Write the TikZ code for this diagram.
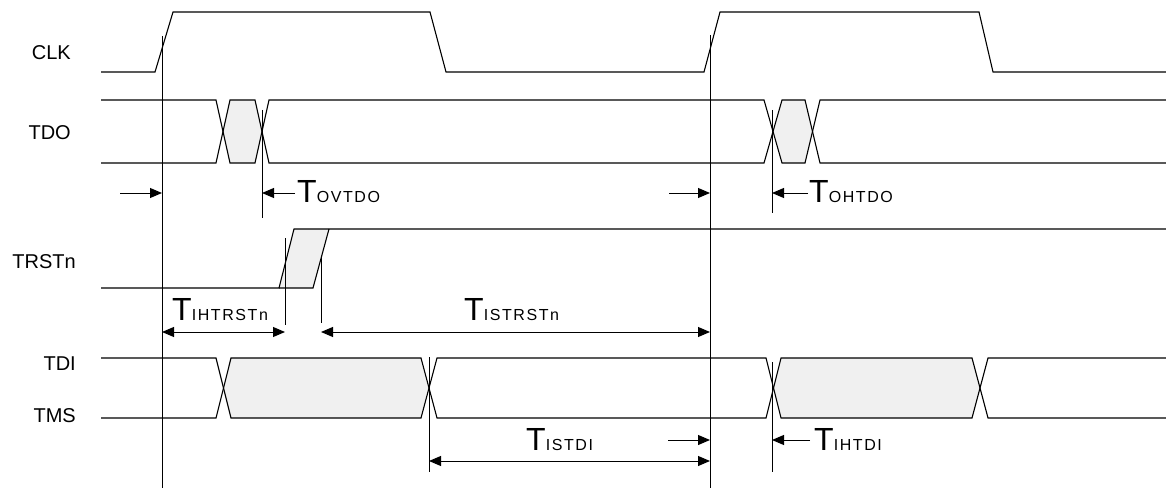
\documentclass[tikz,border=0pt]{standalone}
\usepackage{fontspec}
\setmainfont{Liberation Sans}
\usetikzlibrary{arrows.meta}
\newcommand\Tsub[1]{{\fontsize{32}{32}\selectfont T}{\fontsize{16}{16}\selectfont\addfontfeature{LetterSpace=10}#1}}
\begin{document}
\begin{tikzpicture}[x=1pt,y=-1pt,
  sig/.style={line width=1.1pt, line join=miter},
  marker/.style={line width=1pt},
  cell/.style={fill=gray!12},
  dim/.style={line width=1pt, -{Triangle[length=12pt,width=10pt]}},
  ddim/.style={line width=1pt, {Triangle[length=12pt,width=10pt]}-{Triangle[length=12pt,width=10pt]}},
  sname/.style={font=\fontsize{20}{20}\selectfont, anchor=base east, inner sep=0pt},
  tlab/.style={anchor=base west, inner sep=0pt}
]
\useasboundingbox (0,0) rectangle (1166,489);

% signal names
\node[sname] (nclk)  at (71,60)  {CLK};
\node[sname] (ntdo)  at (71,140) {TDO};
\node[sname] (ntrst) at (76,268) {TRSTn};
\node[sname] (ntdi)  at (76,370) {TDI};
\node[sname] (ntms)  at (76,422) {TMS};

% gray undefined-data cells
\fill[cell] (223,131.5) -- (230,100) -- (255,100) -- (262,131.5) -- (255,163) -- (230,163) -- cycle;
\fill[cell] (773,131.5) -- (782,100) -- (805,100) -- (812.5,131.5) -- (805,163) -- (782,163) -- cycle;
\fill[cell] (279,288) -- (294,229) -- (329,229) -- (313,288) -- cycle;
\fill[cell] (223.5,388) -- (231,358) -- (421,358) -- (429,388) -- (421,418) -- (231,418) -- cycle;
\fill[cell] (773.5,388) -- (781,358) -- (972,358) -- (980,388) -- (972,418) -- (781,418) -- cycle;

% CLK
\draw[sig] (101,72) -- (155,72) -- (173,12) -- (430,12) -- (446,72) -- (704,72) -- (720,12) -- (979,12) -- (993,72) -- (1166,72);
% TDO
\draw[sig] (101,100) -- (216,100) -- (230,163) -- (255,163) -- (269,100) -- (764,100) -- (782,163) -- (805,163) -- (820,100) -- (1166,100);
\draw[sig] (101,163) -- (216,163) -- (230,100) -- (255,100) -- (269,163) -- (764,163) -- (782,100) -- (805,100) -- (820,163) -- (1166,163);
% TRSTn
\draw[sig] (101,288) -- (279,288) -- (294,229) -- (1166,229);
\draw[sig] (279,288) -- (313,288) -- (329,229);
% TDI / TMS
\draw[sig] (101,358) -- (216,358) -- (231,418) -- (421,418) -- (437,358) -- (766,358) -- (781,418) -- (972,418) -- (988,358) -- (1166,358);
\draw[sig] (101,418) -- (216,418) -- (231,358) -- (421,358) -- (437,418) -- (766,418) -- (781,358) -- (972,358) -- (988,418) -- (1166,418);

% reference lines
\coordinate (e1t) at (162,36);  \coordinate (e1b) at (162,488);
\coordinate (e2t) at (710,35);  \coordinate (e2b) at (710,488);
\coordinate (ovt) at (262,110); \coordinate (ovb) at (262,218);
\coordinate (oht) at (772,110); \coordinate (ohb) at (772,213);
\coordinate (iht) at (285,238); \coordinate (ihb) at (285,325);
\coordinate (ist) at (321,257); \coordinate (isb) at (321,323);
\coordinate (dit) at (429,357); \coordinate (dib) at (429,472);
\coordinate (hdt) at (772,362); \coordinate (hdb) at (772,472);
\foreach \a/\b in {e1t/e1b,e2t/e2b,ovt/ovb,oht/ohb,iht/ihb,ist/isb,dit/dib,hdt/hdb}
  \draw[marker] (\a) -- (\b);

% dimension arrows
\coordinate (a1) at (120,193);
\draw[dim] (a1) -- (e1t |- a1);
\coordinate (a2) at (295,193);
\draw[dim] (a2) -- (ovt |- a2);
\coordinate (a3) at (669,193);
\draw[dim] (a3) -- (e2t |- a3);
\coordinate (a4) at (808,193);
\draw[dim] (a4) -- (oht |- a4);
\coordinate (a5) at (162,332);
\draw[ddim] (a5) -- (iht |- a5);
\coordinate (a6) at (321,332);
\draw[ddim] (a6) -- (e2t |- a6);
\coordinate (a7) at (668,440);
\draw[dim] (a7) -- (e2t |- a7);
\coordinate (a8) at (810,440);
\draw[dim] (a8) -- (hdt |- a8);
\coordinate (a9) at (429,461);
\draw[ddim] (a9) -- (e2t |- a9);

% timing labels
\node[tlab] (lovtdo)  at (297,202) {\Tsub{OVTDO}};
\node[tlab] (lohtdo)  at (809,202) {\Tsub{OHTDO}};
\node[tlab] (lihtrst) at (172,320) {\Tsub{IHTRSTn}};
\node[tlab] (listrst) at (464,320) {\Tsub{ISTRSTn}};
\node[tlab] (listdi)  at (526,450) {\Tsub{ISTDI}};
\node[tlab] (lihtdi)  at (814,450) {\Tsub{IHTDI}};
\end{tikzpicture}
\end{document}
